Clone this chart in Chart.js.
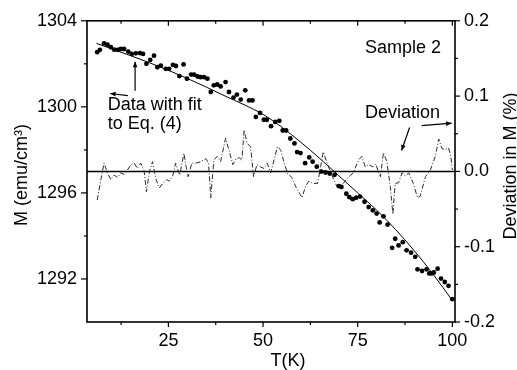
<!DOCTYPE html>
<html>
<head>
<meta charset="utf-8">
<script src="https://cdn.jsdelivr.net/npm/chart.js@4.4.1/dist/chart.umd.min.js"></script>
<style>
  html, body { margin:0; padding:0; background:#fff; }
  #wrap { width:517px; height:370px; position:relative; }
</style>
</head>
<body>
<div id="wrap"><canvas id="chart"></canvas></div>
<script>
// measured magnetization (points)
const dataT = [6.2,6.9,8.0,8.9,9.8,10.7,11.6,12.4,13.3,14.4,15.3,16.4,17.5,18.3,19.2,20.2,21.2,22.1,23.0,24.3,
  25.2,26.2,27.0,27.9,29.0,29.9,31.0,31.8,32.7,33.5,34.4,35.3,36.2,37.0,37.9,38.8,40.1,41.0,42.2,43.1,
  44.1,45.3,46.3,47.2,48.1,49.2,50.2,51.0,52.1,53.2,54.3,55.2,56.1,57.2,58.3,59.0,59.9,61.1,62.2,63.1,
  64.2,65.4,66.5,67.6,68.9,70.0,70.7,72.0,72.8,73.7,74.6,75.6,76.8,77.9,79.0,80.0,80.8,81.8,82.9,84.1,
  84.9,85.8,86.9,87.9,89.1,90.2,90.8,92.0,93.2,93.9,94.5,95.1,96.1,97.0,98.0,99.0,100.0];
const dataM = [1302.54,1302.65,1302.95,1302.89,1302.77,1302.66,1302.65,1302.69,1302.69,1302.57,1302.46,1302.49,1302.50,1302.46,1302.00,1302.18,1302.38,1301.84,1301.92,1301.77,
  1301.77,1301.95,1301.90,1301.43,1301.97,1301.31,1301.50,1301.50,1301.41,1301.38,1301.38,1301.31,1300.69,1301.00,1301.04,1300.95,1301.15,1300.69,1300.43,1300.57,
  1300.34,1300.77,1300.30,1300.30,1299.53,1299.72,1299.40,1299.40,1299.10,1299.30,1299.35,1298.90,1298.90,1298.53,1298.30,1297.90,1297.85,1297.38,1297.65,1297.45,
  1297.22,1296.99,1296.95,1296.90,1296.84,1296.32,1296.28,1295.96,1295.80,1295.71,1295.78,1295.83,1295.59,1295.34,1295.19,1295.04,1294.63,1294.91,1294.53,1293.45,
  1293.87,1293.56,1293.71,1293.33,1293.22,1293.03,1292.45,1292.37,1292.45,1292.26,1292.26,1292.30,1292.48,1292.02,1291.86,1291.68,1291.06];

// fit to Eq. (4)
const fitT = [6,10,15,20,25,30,35,40,45,50,55,60,65,70,75,80,85,90,95,100];
const fitM = [1302.95,1302.70,1302.38,1302.05,1301.70,1301.32,1300.92,1300.50,1300.10,1299.65,
  1299.05,1298.35,1297.60,1296.80,1296.00,1295.20,1294.30,1293.30,1292.20,1291.00];

// deviation in M (%), right axis
const devT = [6.2,7.2,8.0,8.9,9.8,10.7,11.6,12.4,13.3,14.2,15.1,16.0,16.8,17.7,18.6,19.2,20.0,20.8,21.7,22.6,
  23.5,24.5,25.3,26.2,26.9,28.0,29.1,29.6,30.2,31.2,32.3,33.6,34.9,35.6,36.2,37.0,37.9,38.8,40.1,41.0,
  42.0,42.9,43.8,44.4,45.0,45.8,46.7,47.5,48.4,49.3,50.2,51.1,52.0,52.9,53.8,54.7,55.6,56.5,57.6,58.6,
  59.4,60.3,61.2,62.1,63.2,64.4,65.2,65.9,66.8,67.6,68.6,69.5,70.4,71.3,72.5,73.8,75.2,76.1,77.0,77.9,
  79.0,79.8,80.4,81.0,81.8,82.7,83.6,84.3,84.9,85.8,86.7,87.6,88.5,89.7,90.8,91.5,92.9,94.2,95.5,96.4,
  97.3,98.1,99.0,99.6,100.0];
const devPct = [-0.038,-0.010,0.011,-0.002,-0.011,-0.005,-0.008,-0.002,-0.004,0.002,0.009,0.011,0.004,0.011,0.000,-0.027,0.000,0.013,-0.010,-0.022,
  -0.016,-0.011,-0.013,-0.005,0.011,-0.005,0.024,0.008,-0.007,0.011,0.011,0.013,0.017,0.011,-0.035,0.015,0.020,0.013,0.044,0.028,
  0.009,0.017,0.018,0.015,0.055,0.037,0.033,-0.007,0.009,0.006,0.004,0.011,-0.002,0.015,0.033,0.028,0.011,-0.003,-0.008,-0.020,
  -0.027,-0.035,-0.020,-0.013,-0.016,-0.016,0.006,0.026,0.013,0.002,-0.010,-0.020,-0.020,-0.015,-0.008,-0.002,0.015,0.020,0.006,0.009,
  0.006,0.010,0.000,-0.007,0.025,0.013,-0.020,-0.057,-0.016,-0.015,-0.002,-0.006,-0.002,-0.016,-0.035,-0.033,-0.007,0.002,0.020,0.043,
  0.030,0.029,0.031,0.020,0.002];

// axes
const xMin = 3.5, xMax = 100.7;
const xMajor = [25, 50, 75, 100];
const xMinor = [12.5, 37.5, 62.5, 87.5];
const mMajor = [1292, 1296, 1300, 1304];
const mMinor = [1294, 1298, 1302];
const devMajor = [-0.2, -0.1, 0, 0.1, 0.2];
const devMinor = [-0.15, -0.05, 0.05, 0.15];

const FONT = "'Liberation Sans', Arial, sans-serif";

function arrow(ctx, x1, y1, x2, y2) {
  const a = Math.atan2(y2 - y1, x2 - x1), h = 6;
  ctx.beginPath();
  ctx.moveTo(x1, y1); ctx.lineTo(x2, y2);
  ctx.stroke();
  ctx.beginPath();
  ctx.moveTo(x2, y2);
  ctx.lineTo(x2 - h * Math.cos(a - 0.4), y2 - h * Math.sin(a - 0.4));
  ctx.lineTo(x2 - h * Math.cos(a + 0.4), y2 - h * Math.sin(a + 0.4));
  ctx.closePath();
  ctx.fill();
}

const decor = {
  id: 'decor',
  afterDraw(chart) {
    const { ctx, chartArea: a, scales: { x, y, y2 } } = chart;
    ctx.save();
    ctx.strokeStyle = '#000'; ctx.fillStyle = '#000';

    // frame
    ctx.lineWidth = 1.6;
    ctx.strokeRect(a.left, a.top, a.right - a.left, a.bottom - a.top);

    // ticks
    ctx.lineWidth = 1.2;
    const seg = (x1, y1, x2, y2) => { ctx.beginPath(); ctx.moveTo(x1, y1); ctx.lineTo(x2, y2); ctx.stroke(); };
    xMajor.forEach(v => { const p = x.getPixelForValue(v); seg(p, a.bottom, p, a.bottom + 5); seg(p, a.top, p, a.top + 5); });
    xMinor.forEach(v => { const p = x.getPixelForValue(v); seg(p, a.bottom, p, a.bottom + 3); seg(p, a.top, p, a.top + 3); });
    mMajor.forEach(v => { const p = y.getPixelForValue(v); seg(a.left - 6, p, a.left, p); });
    mMinor.forEach(v => { const p = y.getPixelForValue(v); seg(a.left - 3, p, a.left, p); });
    devMajor.forEach(v => { const p = y2.getPixelForValue(v); seg(a.right, p, a.right + 5, p); });
    devMinor.forEach(v => { const p = y2.getPixelForValue(v); seg(a.right, p, a.right + 3, p); });

    // axis titles
    ctx.font = `18px ${FONT}`;
    ctx.textAlign = 'center'; ctx.textBaseline = 'middle';
    ctx.fillText('T(K)', 288, 361);
    ctx.save(); ctx.translate(22, 175); ctx.rotate(-Math.PI / 2); ctx.fillText('M (emu/cm³)', 0, 0); ctx.restore();
    ctx.save(); ctx.translate(511, 166); ctx.rotate(-Math.PI / 2); ctx.fillText('Deviation in M (%)', 0, 0); ctx.restore();

    // annotations
    ctx.textAlign = 'left'; ctx.textBaseline = 'alphabetic';
    ctx.fillText('Sample 2', x.getPixelForValue(76.9), y.getPixelForValue(1302.52));
    ctx.fillText('Data with fit', x.getPixelForValue(9.0), y.getPixelForValue(1299.87));
    ctx.fillText('to Eq. (4)', x.getPixelForValue(9.0), y.getPixelForValue(1298.99));
    ctx.fillText('Deviation', x.getPixelForValue(76.9), y.getPixelForValue(1299.46));

    ctx.lineWidth = 1.2;
    arrow(ctx, x.getPixelForValue(16.2), y.getPixelForValue(1300.75), x.getPixelForValue(16.2), y.getPixelForValue(1302.1));
    arrow(ctx, x.getPixelForValue(14.3), y.getPixelForValue(1300.52), x.getPixelForValue(9.6), y.getPixelForValue(1300.62));
    arrow(ctx, x.getPixelForValue(88.7), y.getPixelForValue(1299.04), x.getPixelForValue(86.6), y.getPixelForValue(1297.97));
    arrow(ctx, x.getPixelForValue(91.9), y.getPixelForValue(1299.13), x.getPixelForValue(99.8), y.getPixelForValue(1299.24));
    ctx.restore();
  }
};

const tickFont = { family: FONT, size: 18 };

new Chart(document.getElementById('chart'), {
  type: 'scatter',
  data: {
    datasets: [
      {
        label: 'Deviation',
        data: devT.map((t, i) => ({ x: t, y: devPct[i] })),
        yAxisID: 'y2',
        showLine: true,
        borderColor: '#2a2a2a',
        borderWidth: 1,
        borderDash: [5, 2, 1, 2],
        pointRadius: 0,
        order: 3
      },
      {
        label: 'zero',
        data: [{ x: xMin, y: 0 }, { x: xMax, y: 0 }],
        yAxisID: 'y2',
        showLine: true,
        borderColor: '#000',
        borderWidth: 1.5,
        pointRadius: 0,
        order: 2
      },
      {
        label: 'Fit',
        data: fitT.map((t, i) => ({ x: t, y: fitM[i] })),
        yAxisID: 'y',
        showLine: true,
        cubicInterpolationMode: 'monotone',
        borderColor: '#000',
        borderWidth: 1,
        pointRadius: 0,
        order: 1
      },
      {
        label: 'Data',
        data: dataT.map((t, i) => ({ x: t, y: dataM[i] })),
        yAxisID: 'y',
        backgroundColor: '#000',
        borderColor: '#000',
        pointRadius: 2.4,
        borderWidth: 0,
        order: 0
      }
    ]
  },
  options: {
    responsive: true,
    maintainAspectRatio: false,
    animation: false,
    layout: { padding: { top: 20, left: 0, right: 0, bottom: 0 } },
    plugins: { legend: { display: false }, tooltip: { enabled: false } },
    scales: {
      x: {
        type: 'linear', min: xMin, max: xMax,
        afterFit: s => { s.height = 48; },
        afterBuildTicks: s => { s.ticks = xMajor.map(v => ({ value: v })); },
        grid: { display: false, drawTicks: false },
        border: { display: false },
        ticks: { color: '#000', font: tickFont, padding: 8, maxRotation: 0, autoSkip: false, callback: v => String(v) }
      },
      y: {
        position: 'left', min: 1290, max: 1304,
        afterFit: s => { s.width = 87; },
        afterBuildTicks: s => { s.ticks = mMajor.map(v => ({ value: v })); },
        grid: { display: false, drawTicks: false },
        border: { display: false },
        ticks: { color: '#000', font: tickFont, padding: 10, callback: v => String(v) }
      },
      y2: {
        position: 'right', min: -0.2, max: 0.2,
        afterFit: s => { s.width = 62; },
        afterBuildTicks: s => { s.ticks = devMajor.map(v => ({ value: v })); },
        grid: { display: false, drawTicks: false },
        border: { display: false },
        ticks: { color: '#000', font: tickFont, padding: 9, callback: v => v.toFixed(1) }
      }
    }
  },
  plugins: [decor]
});
</script>
</body>
</html>
